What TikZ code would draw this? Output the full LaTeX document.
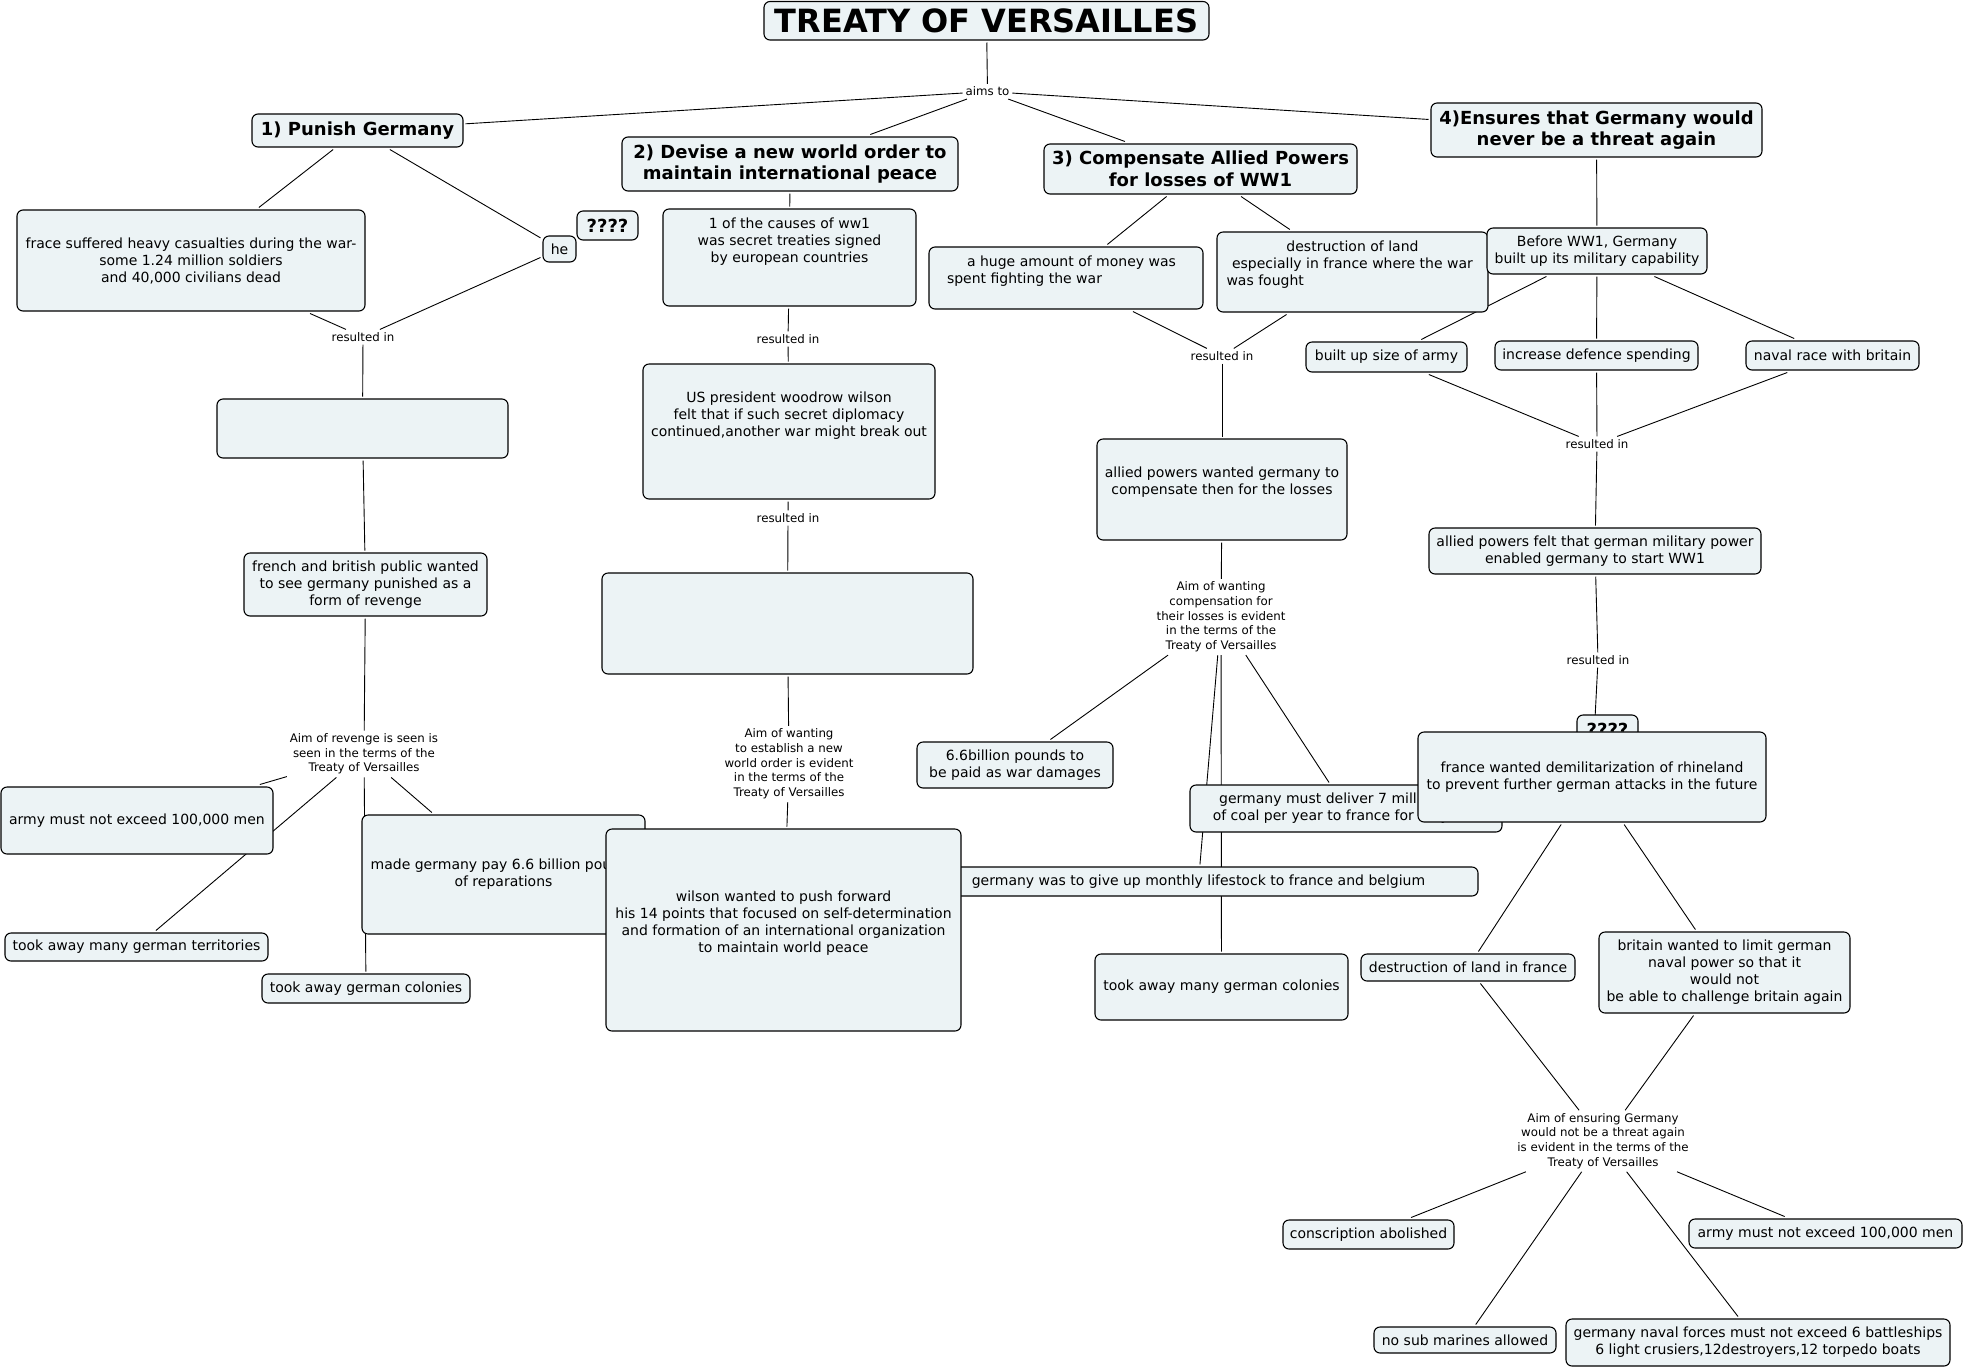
\documentclass[tikz,border=0pt]{standalone}
\usepackage{fontspec}
\setmainfont{DejaVu Sans}
\pgfdeclarelayer{bg}
\pgfsetlayers{bg,main}
\definecolor{boxfill}{RGB}{236,243,245}
\tikzset{
 cbox/.style={draw=black, line width=1.1pt, fill=boxfill, rounded corners=6pt, inner sep=0pt, outer sep=2.5pt, align=center, font=\fontsize{14}{17}\selectfont},
 head/.style={font=\bfseries\fontsize{18}{21.7}\selectfont},
 lbl/.style={inner sep=3pt, outer sep=0pt, align=center, font=\fontsize{11.8}{14.7}\selectfont},
 ln/.style={draw=black, line width=0.9pt},
}
\newcommand\cpt[7][]{\node[cbox,#1,minimum width={#5-#3},minimum height={#6-#4}] (#2) at ({(#3+#5)/2},{(#4+#6)/2}) {#7};}
\newcommand\lab[4]{\node[lbl] (#1) at (#2,#3) {#4};}
\begin{document}
\begin{tikzpicture}[x=1pt,y=-1pt]
\path[use as bounding box] (0,0) rectangle (1965,1369);
% top
\cpt[font=\bfseries\fontsize{32}{38}\selectfont]{title}{764}{1.5}{1209}{40}{TREATY OF VERSAILLES}
\lab{aims}{987.5}{91.5}{aims to}
\cpt[head]{punish}{252}{114}{463}{147}{1) Punish Germany}
\cpt[head]{devise}{622}{137}{958}{191}{2) Devise a new world order to\\maintain international peace}
\cpt[head]{comp}{1044}{144}{1357}{194}{3) Compensate Allied Powers\\for losses of WW1}
\cpt[head]{ensure}{1431}{103}{1762}{157}{4)Ensures that Germany would\\never be a threat again}
% column 1
\cpt{frace}{17}{210}{365}{311}{frace suffered heavy casualties during the war-\\some 1.24 million soldiers\\and 40,000 civilians dead}
\cpt{he}{543}{236}{576}{262}{he}
\cpt[head]{qqa}{577}{211}{638}{240}{????}
\lab{resa}{363}{337}{resulted in}
\cpt{emptya}{217}{399}{508}{458}{}
\cpt{french}{244}{553}{487}{616}{french and british public wanted\\to see germany punished as a\\form of revenge}
\lab{aimrev}{364}{754}{Aim of revenge is seen is\\seen in the terms of the\\Treaty of Versailles}
\cpt{armyl}{1}{787}{273}{854}{army must not exceed 100,000 men}
\cpt{terr}{5}{933}{268}{961}{took away many german territories}
\cpt{made}{362}{815}{645}{934}{made germany pay 6.6 billion pounds\\of reparations}
\cpt{coll}{262}{974}{470}{1003}{took away german colonies}
% column 2
\cpt{causes}{663}{209}{916}{306}{1 of the causes of ww1\\was secret treaties signed\\by european countries\\\mbox{}\\\mbox{}}
\lab{resb}{788}{339}{resulted in}
\cpt{us}{643}{364}{935}{499}{US president woodrow wilson\\felt that if such secret diplomacy\\continued,another war might break out\\\mbox{}\\\mbox{}}
\lab{resc}{788}{518}{resulted in}
\cpt{emptyb}{602}{573}{973}{674}{}
\lab{aimnew}{789}{764}{Aim of wanting\\to establish a new\\world order is evident\\in the terms of the\\Treaty of Versailles}
% column 3
\cpt{money}{929}{247}{1203}{309}{\hspace*{11pt}a huge amount of money was\\\makebox[0pt][l]{\hspace*{-119pt}spent fighting the war}\\\mbox{}}
\cpt{destr}{1217}{232}{1488}{312}{destruction of land\\especially in france where the war\\\makebox[0pt][l]{\hspace*{-126pt}was fought}\\\mbox{}}
\lab{resd}{1222}{356}{resulted in}
\cpt{allied}{1097}{439}{1347}{540}{allied powers wanted germany to\\compensate then for the losses\\\mbox{}}
\lab{aimcomp}{1221}{617}{Aim of wanting\\compensation for\\their losses is evident\\in the terms of the\\Treaty of Versailles}
\cpt{six}{917}{742}{1113}{788}{6.6billion pounds to\\be paid as war damages}
\cpt{coal}{1190}{785}{1502}{832}{germany must deliver 7 million tons\\of coal per year to france for 10 years}
\cpt{live}{919}{867}{1478}{896}{germany was to give up monthly lifestock to france and belgium}
\cpt{wilson}{606}{829}{961}{1031}{wilson wanted to push forward\\his 14 points that focused on self-determination\\and formation of an international organization\\to maintain world peace\\\mbox{}}
\cpt{colm}{1095}{954}{1348}{1020}{took away many german colonies}
% column 4
\cpt{before}{1487}{228}{1707}{274}{Before WW1, Germany\\built up its military capability}
\cpt{armysize}{1306}{342}{1467}{372}{built up size of army}
\cpt{defence}{1495}{341}{1698}{370}{increase defence spending}
\cpt{naval}{1746}{341}{1919}{370}{naval race with britain}
\lab{rese}{1597}{444}{resulted in}
\cpt{felt}{1429}{528}{1761}{574}{allied powers felt that german military power\\enabled germany to start WW1}
\lab{resf}{1598}{660}{resulted in}
\cpt[head]{qqb}{1577}{715}{1638}{744}{????}
\cpt{france}{1418}{732}{1766}{822}{france wanted demilitarization of rhineland\\to prevent further german attacks in the future}
\cpt{dland}{1361}{954}{1575}{981}{destruction of land in france}
\cpt{britain}{1599}{932}{1850}{1013}{britain wanted to limit german\\naval power so that it\\would not\\be able to challenge britain again}
\lab{aimens}{1603}{1141}{Aim of ensuring Germany\\would not be a threat again\\is evident in the terms of the\\Treaty of Versailles}
\cpt{consc}{1283}{1220}{1454}{1249}{conscription abolished}
\cpt{nosub}{1374}{1327}{1556}{1353}{no sub marines allowed}
\cpt{navalf}{1566}{1319}{1950}{1366}{germany naval forces must not exceed 6 battleships\\6 light crusiers,12destroyers,12 torpedo boats}
\cpt{armyr}{1689}{1219}{1962}{1248}{army must not exceed 100,000 men}
% connectors
\begin{pgfonlayer}{bg}
\draw[ln] (title) -- (aims);
\draw[ln] (aims) -- (punish);
\draw[ln] (aims) -- (devise);
\draw[ln] (aims) -- (comp);
\draw[ln] (aims) -- (ensure);
\draw[ln] (punish) -- (frace);
\draw[ln] (punish) -- (he);
\draw[ln] (frace) -- (resa);
\draw[ln] (he) -- (resa);
\draw[ln] (resa) -- (emptya);
\draw[ln] (emptya) -- (french);
\draw[ln] (french) -- (aimrev);
\draw[ln] (aimrev) -- (armyl);
\draw[ln] (aimrev) -- (terr);
\draw[ln] (aimrev) -- (coll);
\draw[ln] (aimrev) -- (made);
\draw[ln] (devise) -- (causes);
\draw[ln] (causes) -- (resb);
\draw[ln] (resb) -- (us);
\draw[ln] (us) -- (resc);
\draw[ln] (resc) -- (emptyb);
\draw[ln] (emptyb) -- (aimnew);
\draw[ln] (aimnew) -- (wilson);
\draw[ln] (comp) -- (money);
\draw[ln] (comp) -- (destr);
\draw[ln] (money) -- (resd);
\draw[ln] (destr) -- (resd);
\draw[ln] (resd) -- (allied);
\draw[ln] (allied) -- (aimcomp);
\draw[ln] (aimcomp) -- (six);
\draw[ln] (aimcomp) -- (live);
\draw[ln] (aimcomp) -- (colm);
\draw[ln] (aimcomp) -- (coal);
\draw[ln] (ensure) -- (before);
\draw[ln] (before) -- (armysize);
\draw[ln] (before) -- (defence);
\draw[ln] (before) -- (naval);
\draw[ln] (armysize) -- (rese);
\draw[ln] (defence) -- (rese);
\draw[ln] (naval) -- (rese);
\draw[ln] (rese) -- (felt);
\draw[ln] (felt) -- (resf);
\draw[ln] (resf) -- (france);
\draw[ln] (france) -- (dland);
\draw[ln] (france) -- (britain);
\draw[ln] (dland) -- (aimens);
\draw[ln] (britain) -- (aimens);
\draw[ln] (aimens) -- (consc);
\draw[ln] (aimens) -- (nosub);
\draw[ln] (aimens) -- (navalf);
\draw[ln] (aimens) -- (armyr);
\end{pgfonlayer}
\end{tikzpicture}
\end{document}
